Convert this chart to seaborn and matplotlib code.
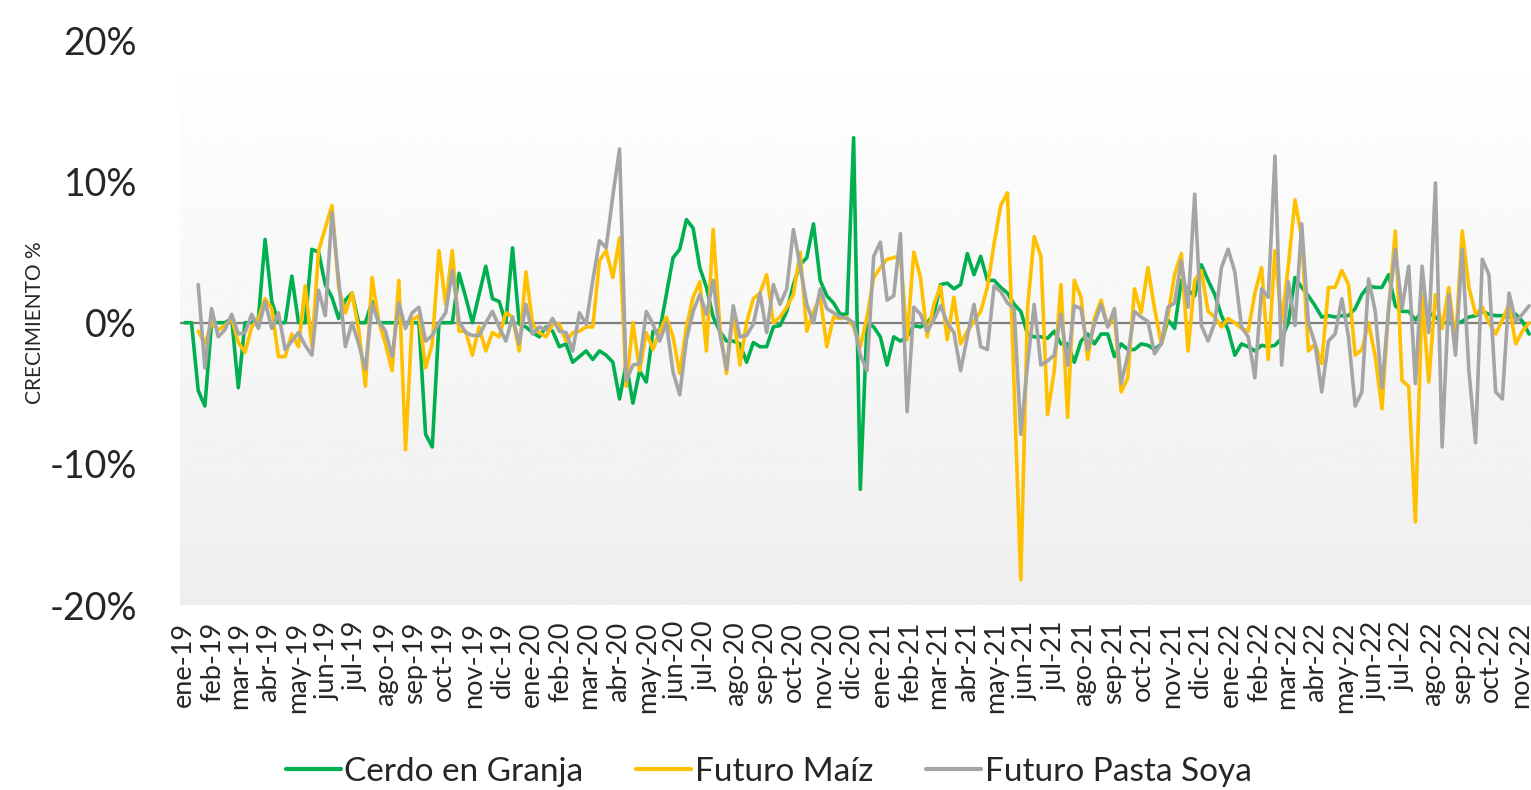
import matplotlib
matplotlib.use("Agg")
import matplotlib.pyplot as plt
import numpy as np
import pandas as pd
import seaborn as sns

# weekly growth (%), first week of 2019 to nov-22
start_date = "2019-01-03"

cerdo = [
    0, 0, -4.8, -5.9, 0, 0, 0, 0.3, -4.6, 0,
    0, 0.3, 5.9, 1.5, 0, 0, 3.3, 0, 0, 5.2,
    5.0, 2.7, 1.8, 0.3, 1.6, 2.1, 0, 0, 1.5, 0,
    0, 0, 0, 0, 0, 0, -7.9, -8.8, 0, 0,
    0, 3.5, 1.8, 0, 2.0, 4.0, 1.7, 1.5, 0, 5.3,
    -0.1, -0.3, -0.7, -1.0, -0.3, -0.6, -1.7, -1.5, -2.8, -2.4,
    -2.0, -2.6, -2.0, -2.3, -2.8, -5.4, -2.9, -5.7, -3.4, -4.2,
    -0.6, -0.6, 2.0, 4.6, 5.2, 7.3, 6.7, 3.9, 2.5, 0.4,
    -0.6, -1.3, -1.3, -1.5, -2.8, -1.4, -1.7, -1.7, -0.3, -0.2,
    0.8, 2.7, 4.1, 4.6, 7.0, 3.0, 1.9, 1.4, 0.6, 0.6,
    13.1, -11.8, 0.0, -0.3, -1.0, -3.0, -1.0, -1.3, -1.0, -0.2,
    -0.3, 0.0, 0.6, 2.7, 2.8, 2.4, 2.7, 4.9, 3.4, 4.7,
    3.0, 3.0, 2.5, 2.1, 1.3, 0.8, -0.8, -1.0, -1.0, -1.1,
    -0.6, -1.5, -1.5, -2.8, -1.3, -0.8, -1.5, -0.8, -0.8, -2.4,
    -1.5, -1.9, -1.9, -1.5, -1.6, -1.9, -1.5, 0.2, -0.4, 3.0,
    2.3, 1.9, 4.1, 3.0, 2.0, 0.5, -0.5, -2.3, -1.5, -1.7,
    -2.0, -1.6, -1.7, -1.6, -1.1, 0.0, 3.2, 2.5, 1.9, 1.2,
    0.4, 0.5, 0.4, 0.5, 0.5, 1.0, 2.0, 2.6, 2.5, 2.5,
    3.4, 1.2, 0.8, 0.8, 0.2, 0.8, 0.7, 0.4, 0.0, 0.0,
    -0.1, 0.1, 0.4, 0.5, 0.8, 0.6, 0.5, 0.5, 0.4, 0.6,
    0.1, -0.8,
]

maiz = [
    np.nan, np.nan, -0.6, -1.5, 0, -0.5, -0.2, 0.3, -1.4, -2.1,
    -0.3, 0.3, 1.7, 1.0, -2.4, -2.4, -0.8, -1.7, 2.6, -1.7,
    5.1, 6.7, 8.3, 2.5, 0.7, 2.1, -0.5, -4.5, 3.2, 0.1,
    -1.5, -3.4, 3.0, -9.0, 0.2, 0.5, -3.2, -1.5, 5.1, 1.3,
    5.1, -0.6, -0.6, -2.3, -0.3, -2.0, -0.7, -1.0, 0.7, 0.4,
    -2.0, 3.6, -0.1, -0.7, -1.0, -0.1, -0.1, -1.3, -0.7, -0.6,
    -0.3, -0.3, 4.4, 5.1, 3.2, 6.0, -4.5, 0.0, -3.4, -0.7,
    -1.9, -0.6, 0.4, -1.0, -3.6, -0.3, 1.8, 2.9, -2.0, 6.6,
    -0.3, -3.6, 0.8, -3.0, 0.0, 1.7, 2.1, 3.4, 0.0, 0.4,
    1.1, 2.0, 5.0, -0.6, 0.8, 1.8, -1.7, 0.4, 0.3, 0.4,
    -0.3, -1.7, 0.4, 3.2, 3.9, 4.5, 4.6, 4.8, -1.2, 5.0,
    3.2, -1.0, 1.3, 2.6, -1.2, 1.8, -1.5, -0.6, 0.1, 0.8,
    2.5, 5.6, 8.3, 9.2, -4.5, -18.2, 1.0, 6.1, 4.7, -6.5,
    -3.4, 2.7, -6.7, 3.0, 1.8, -2.6, 0.3, 1.6, -0.3, 0.4,
    -4.9, -3.9, 2.4, 0.7, 3.9, 1.0, -1.5, 0.5, 3.4, 4.9,
    -2.0, 3.0, 3.7, 0.8, 0.4, -0.3, 0.3, 0.0, -0.4, -0.6,
    2.1, 3.9, -2.6, 5.1, 0.0, 4.0, 8.7, 6.0, -2.0, -1.5,
    -2.9, 2.5, 2.5, 3.7, 2.7, -2.3, -1.9, 0.0, -2.4, -6.1,
    1.0, 6.5, -4.1, -4.5, -14.1, 2.0, -4.2, 2.0, -0.4, 2.5,
    -1.5, 6.5, 2.5, 0.6, 1.1, 0.0, -0.8, 0.2, 1.3, -1.5,
    -0.6, 0.0,
]

soya = [
    np.nan, np.nan, 2.7, -3.2, 1.0, -1.0, -0.5, 0.6, -0.8, -0.7,
    0.6, -0.4, 1.5, -0.4, 0.7, -1.9, -1.3, -0.7, -1.6, -2.3,
    2.3, 0.5, 7.8, 3.0, -1.7, 0.0, -1.5, -3.3, 1.3, 0.1,
    -0.6, -2.4, 1.4, -0.4, 0.7, 1.1, -1.3, -0.9, 0.0, 0.7,
    3.7, 0.1, -0.7, -0.9, -0.9, 0.0, 0.8, -0.3, -1.3, 0.4,
    -1.5, 1.3, -0.8, -0.3, -0.5, 0.3, -0.6, -0.7, -2.0, 0.7,
    -0.1, 3.0, 5.8, 5.3, 9.0, 12.3, -4.1, -3.0, -2.9, 0.8,
    -0.1, -1.3, 0.0, -3.5, -5.1, -1.2, 0.8, 2.0, 0.6, 3.0,
    -0.8, -3.3, 1.2, -1.0, -0.9, -0.1, 2.1, -0.7, 2.7, 1.3,
    2.4, 6.6, 4.0, 1.3, 0.0, 2.4, 1.0, 0.7, 0.4, 0.3,
    0.0, -2.3, -3.4, 4.7, 5.7, 1.6, 1.9, 6.3, -6.3, 1.1,
    0.6, -0.6, 0.2, 1.2, 0.0, -0.7, -3.4, -1.0, 1.3, -1.7,
    -1.9, 2.6, 2.2, 1.4, 1.0, -7.9, -3.0, 1.3, -3.0, -2.7,
    -2.3, 0.6, -3.0, 1.2, 1.0, -1.9, -0.1, 1.3, -0.3, 1.0,
    -4.3, -2.3, 0.8, 0.4, 0.1, -2.2, -1.5, 1.1, 1.4, 4.4,
    1.1, 9.1, -0.2, -1.3, 0.0, 3.9, 5.2, 3.6, -0.3, -1.0,
    -3.9, 2.4, 1.8, 11.8, -3.0, 2.9, -0.2, 7.0, 0.0, -1.5,
    -4.9, -1.3, -0.8, 1.7, -1.0, -5.9, -4.9, 3.1, 0.8, -4.6,
    1.0, 5.2, 1.0, 4.0, -4.3, 4.0, -0.7, 9.9, -8.8, 2.0,
    -2.3, 5.2, -3.4, -8.5, 4.5, 3.4, -4.9, -5.4, 2.1, 0.1,
    0.6, 1.2,
]

series_names = ["Cerdo en Granja", "Futuro Maíz", "Futuro Pasta Soya"]
colors = ["#00B050", "#FFC000", "#A5A5A5"]
month_abbr = ["ene", "feb", "mar", "abr", "may", "jun",
              "jul", "ago", "sep", "oct", "nov", "dic"]
y_ticks = [-20, -10, 0, 10, 20]

dates = pd.date_range(start_date, periods=len(cerdo), freq="7D")
wide = pd.DataFrame({"fecha": dates,
                     series_names[0]: cerdo,
                     series_names[1]: maiz,
                     series_names[2]: soya})
df = wide.melt(id_vars="fecha", var_name="serie", value_name="valor")

sns.set_style("white")
plt.rcParams["font.family"] = ["Lato", "DejaVu Sans"]

fig = plt.figure(figsize=(15.31, 7.9), dpi=100)
ax = fig.add_axes([0.1176, 0.234, 0.8824, 0.715])

# plot area gradient, white at top to light grey at bottom
grad = np.linspace(1.0, 0.935, 256).reshape(-1, 1)
ax.imshow(grad, cmap="gray", vmin=0, vmax=1, aspect="auto",
          extent=[0, 1, 0, 1], transform=ax.transAxes, zorder=0)

ax.axhline(0, color="#7F7F7F", lw=1.6, zorder=1.5)

sns.lineplot(data=df, x="fecha", y="valor", hue="serie",
             hue_order=series_names, palette=colors, linewidth=2.6,
             errorbar=None, ax=ax, zorder=2)

month_ticks = pd.date_range("2019-01-01", "2022-11-01", freq="MS")
ax.set_xticks(month_ticks)
ax.set_xticklabels([f"{month_abbr[d.month - 1]}-{d.strftime('%y')}" for d in month_ticks],
                   rotation=90, fontsize=19.5)
ax.set_xlim(pd.Timestamp("2018-12-29"), pd.Timestamp("2022-11-12"))

ax.set_ylim(-20, 20)
ax.set_yticks(y_ticks)
ax.set_yticklabels([f"{v}%" for v in y_ticks], fontsize=27)
ax.tick_params(axis="y", length=0, pad=31)
ax.tick_params(axis="x", length=0, pad=12)

ax.set_xlabel("")
ax.set_ylabel("CRECIMIENTO %", fontsize=15)
ax.yaxis.set_label_coords(-0.1, 0.5)

for s in ax.spines.values():
    s.set_visible(False)

handles, labels = ax.get_legend_handles_labels()
if ax.legend_:
    ax.legend_.remove()
for h in handles:
    h.set_linewidth(3)
fig.legend(handles, labels, loc="center", bbox_to_anchor=(0.502, 0.023),
           ncol=3, frameon=False, fontsize=24, handlelength=1.65,
           handletextpad=0.1, columnspacing=1.6)

fig.savefig("out.png", dpi=100)
